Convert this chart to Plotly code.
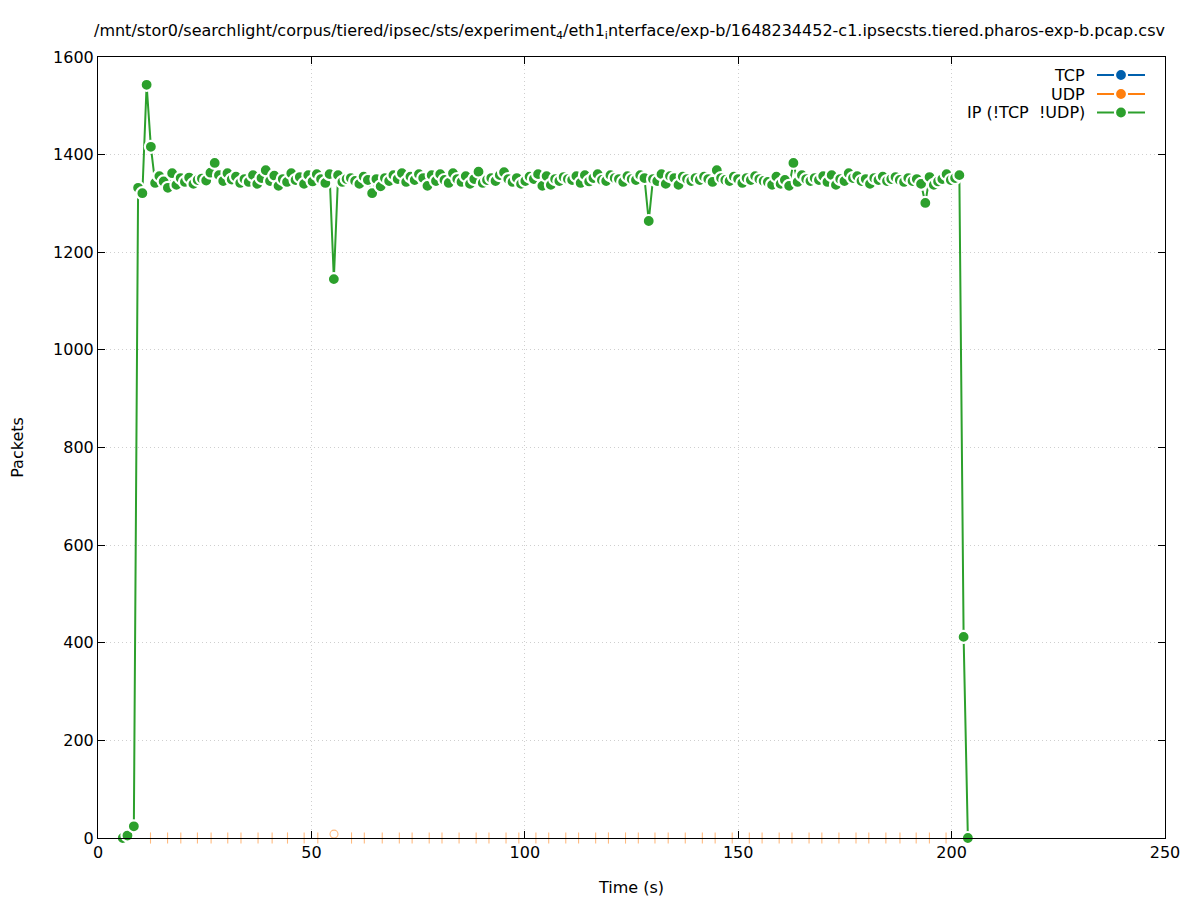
import plotly.graph_objects as go

# ---------------- data ----------------
TITLE = ("/mnt/stor0/searchlight/corpus/tiered/ipsec/sts/experiment<sub>4</sub>/eth1<sub>i</sub>"
         "nterface/exp-b/1648234452-c1.ipsecsts.tiered.pharos-exp-b.pcap.csv")

# IP (!TCP !UDP) packets per sample; regular samples start at IP_T0, step IP_DT seconds
IP_T0 = 8.4
IP_DT = 0.997
IP_VALUES = [
    24, 1332, 1321, 1543, 1416, 1342, 1356, 1345, 1332, 1362,
    1338, 1352, 1344, 1353, 1340, 1348, 1351, 1347, 1363, 1383,
    1358, 1346, 1362, 1349, 1355, 1342, 1350, 1344, 1358, 1340,
    1352, 1368, 1346, 1357, 1336, 1350, 1344, 1362, 1348, 1354,
    1340, 1358, 1345, 1360, 1350, 1342, 1360, 1145, 1358, 1344,
    1350, 1352, 1346, 1340, 1355, 1348, 1321, 1350, 1335, 1352,
    1346, 1358, 1350, 1362, 1344, 1355, 1348, 1360, 1352, 1336,
    1358, 1346, 1360, 1348, 1342, 1362, 1350, 1344, 1356, 1340,
    1350, 1365, 1342, 1348, 1352, 1346, 1358, 1364, 1350, 1344,
    1352, 1340, 1346, 1355, 1350, 1360, 1336, 1356, 1338, 1350,
    1346, 1354, 1350, 1348, 1356, 1342, 1358, 1345, 1352, 1360,
    1348, 1346, 1358, 1352, 1350, 1344, 1356, 1350, 1348, 1358,
    1352, 1264, 1350, 1346, 1360, 1340, 1356, 1352, 1338, 1355,
    1350, 1346, 1352, 1348, 1355, 1350, 1344, 1368, 1352, 1348,
    1346, 1355, 1350, 1342, 1352, 1348, 1356, 1350, 1346, 1344,
    1338, 1355, 1340, 1348, 1336, 1383, 1344, 1358, 1350, 1346,
    1352, 1348, 1356, 1344, 1358, 1338, 1350, 1346, 1362, 1352,
    1356, 1346, 1350, 1340, 1352, 1348, 1355, 1346, 1350, 1354,
    1348, 1344, 1352, 1346, 1350, 1340, 1301, 1354, 1338, 1345,
    1350, 1360, 1348, 1352, 1358, 412, 0,
]
IP_EARLY_T = [5.8, 6.9]
IP_EARLY_V = [0, 5]

UDP_T = [12.3, 16.3, 19.4, 23.3, 26.5, 30.4, 33.5, 37.5, 40.8, 44.4, 48.3, 51.5, 55.3,
         59.4, 62.4, 66.6, 70.6, 73.6, 77.6, 80.6, 84.6, 88.6, 91.6, 95.6, 98.6, 102.6,
         105.6, 109.6, 112.6, 116.6, 119.6, 123.6, 126.6, 130.5, 133.6, 137.6, 141.6,
         144.6, 148.6, 152.6, 155.6, 159.6, 162.6, 166.6, 169.6, 173.6, 177.6, 180.6,
         184.6, 187.9, 191.7, 194.8, 198.7]
UDP_V = [0] * 12 + [8] + [0] * 40

SERIES_NAMES = ["TCP", "UDP", "IP (!TCP\u00a0\u00a0!UDP)"]
X_TICKS = [0, 50, 100, 150, 200, 250]
Y_TICKS = [0, 200, 400, 600, 800, 1000, 1200, 1400, 1600]

# ---------------- style ----------------
FONT = "DejaVu Sans"
FS = 16
BLUE, ORANGE, GREEN = "#0060ad", "#ff7f0e", "#2ca02c"
COLORS = [BLUE, ORANGE, GREEN]
L, R, T, B = 98, 1165, 57, 838      # plot area in page pixels
W, H = 1197, 900
PAD = 8                              # default page body margin

ip_t = IP_EARLY_T + [IP_T0 + IP_DT * k for k in range(len(IP_VALUES))]
ip_v = IP_EARLY_V + IP_VALUES

fig = go.Figure()

# UDP (faint slivers along the axis)
udp_sym = ["circle-open" if v > 0 else "line-ns" for v in UDP_V]
fig.add_trace(go.Scatter(
    x=UDP_T, y=UDP_V, mode="markers", showlegend=False,
    marker=dict(symbol=udp_sym, size=8, color="#ffbb80",
                line=dict(color="#ffbb80", width=1.1)),
    cliponaxis=False, hoverinfo="skip"))

# IP series
fig.add_trace(go.Scatter(
    x=ip_t, y=ip_v, mode="lines+markers", showlegend=False,
    line=dict(color=GREEN, width=2),
    marker=dict(symbol="circle", size=12, color=GREEN, line=dict(color="white", width=2.2)),
    cliponaxis=False))

# ---------------- manual gnuplot-style legend ----------------
leg_y = [75, 94, 112.5]
for name, c, yy in zip(SERIES_NAMES, COLORS, leg_y):
    fig.add_trace(go.Scatter(
        x=[1097, 1145], y=[yy, yy], xaxis="x2", yaxis="y2", mode="lines",
        line=dict(color=c, width=2), showlegend=False, hoverinfo="skip"))
    fig.add_trace(go.Scatter(
        x=[1121], y=[yy], xaxis="x2", yaxis="y2", mode="markers",
        marker=dict(size=12, color=c, line=dict(color="white", width=2.2)),
        showlegend=False, hoverinfo="skip"))
    fig.add_annotation(x=1087, y=yy, xref="x2", yref="y2", text=name, showarrow=False,
                       xanchor="right", yanchor="middle",
                       font=dict(family=FONT, size=FS, color="black"))

axis_common = dict(
    showline=True, linecolor="black", linewidth=1, mirror="allticks",
    ticks="inside", ticklen=7, tickcolor="black", tickwidth=1,
    showgrid=True, gridcolor="#cfcfcf", griddash="1px,3px", gridwidth=1,
    zeroline=False, automargin=False,
    tickfont=dict(family=FONT, size=FS, color="black"),
)

fig.update_layout(
    width=W, height=H,
    margin=dict(l=L - PAD, r=W - R + PAD, t=T - PAD, b=H - B + PAD),
    paper_bgcolor="white", plot_bgcolor="white",
    showlegend=False,
    font=dict(family=FONT, size=FS, color="black"),
    title=dict(text=TITLE, x=(94 - PAD) / W, xanchor="left", xref="container",
               y=1 - (30 - PAD) / H, yanchor="middle", yref="container",
               font=dict(family=FONT, size=FS, color="black")),
    xaxis=dict(range=[0, 250], tickvals=X_TICKS, title=dict(text="Time (s)", standoff=20,
               font=dict(family=FONT, size=FS)), **axis_common),
    yaxis=dict(range=[0, 1600], tickvals=Y_TICKS, title=dict(text="Packets", standoff=26,
               font=dict(family=FONT, size=FS)), **axis_common),
    xaxis2=dict(overlaying="x", range=[L, R], visible=False, anchor="y2"),
    yaxis2=dict(overlaying="y", range=[B, T], visible=False, anchor="x2"),
)

fig.write_html("out.html")
